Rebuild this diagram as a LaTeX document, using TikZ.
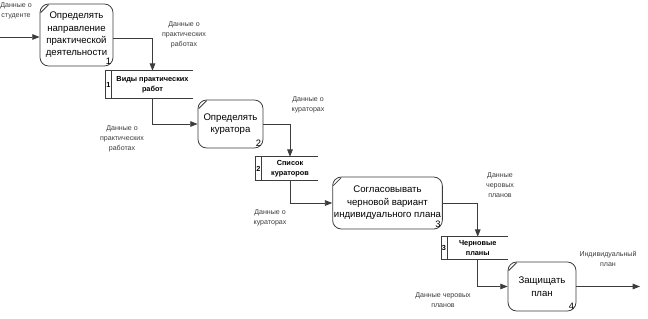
\documentclass[tikz,border=0pt]{standalone}
\usepackage{fontspec}
\setmainfont{Liberation Sans}
\usetikzlibrary{arrows.meta}
\definecolor{ln}{HTML}{3C3C3C}
\tikzset{
  line/.style={draw=ln, line width=0.6pt},
  flow/.style={line, -{Triangle[length=5.5pt,width=4.2pt]}},
  proc/.style={line, rounded corners=6.5pt, align=center, inner sep=1pt,
    font=\fontsize{7.2}{9.3}\selectfont},
  store/.style={align=center, inner sep=1pt, font=\fontsize{5.5}{7.2}\selectfont\bfseries},
  lbl/.style={align=center, inner sep=0pt, text=ln, font=\fontsize{5.3}{7.5}\selectfont},
  num/.style={anchor=south east, inner sep=1.5pt, font=\fontsize{7}{8}\selectfont},
  snum/.style={inner sep=0pt, font=\fontsize{5.5}{6}\selectfont\bfseries}
}
\begin{document}
\begin{tikzpicture}[x=0.75pt, y=-0.75pt]
\useasboundingbox (0,0) rectangle (648,318);
% processes
\node[proc, minimum width=54.75pt, minimum height=46.5pt] (p1) at (76.5,35)
  {Определять\\направление\\практической\\деятельности};
\node[proc, minimum width=48.75pt, minimum height=36pt] (p2) at (230.5,124)
  {Определять\\куратора};
\node[proc, minimum width=81.75pt, minimum height=39pt] (p3) at (387.5,203)
  {Согласовывать\\черновой вариант\\индивидуального плана};
\node[proc, minimum width=51pt, minimum height=36.75pt] (p4) at (542,286.5)
  {Защищать\\план};
\node[num] (n1) at (p1.south east) {1};
\node[num] (n2) at (p2.south east) {2};
\node[num] (n3) at (p3.south east) {3};
\node[num] (n4) at (p4.south east) {4};
\foreach \p in {p1,p2,p3,p4}
  \draw[line] ([shift={(1,9)}]\p.north west) -- ([shift={(9,1)}]\p.north west);
% stores
\node[store, minimum width=60.75pt, minimum height=20.25pt] (s1) at (152.5,84.5)
  {Виды практических\\работ};
\node[store, minimum width=42pt, minimum height=17.25pt] (s2) at (290,168.5)
  {Список\\кураторов};
\node[store, minimum width=45.4pt, minimum height=16.5pt] (s3) at (477.75,248)
  {Черновые\\планы};
\node[snum] (k1) at ([xshift=-2.4]s1.west) {1};
\node[snum] (k2) at ([xshift=-2.4]s2.west) {2};
\node[snum] (k3) at ([xshift=-2.4]s3.west) {3};
\foreach \s in {s1,s2,s3}{
  \draw[line] (\s.north east) -- ([xshift=-4.5]\s.north west)
    -- ([xshift=-4.5]\s.south west) -- (\s.south east);
  \draw[line] (\s.north west) -- (\s.south west);
}
% connectors
\coordinate (in) at (0,37);
\coordinate (y1) at (0,38);
\coordinate (out) at (640,286.5);
\draw[flow] (in) -- (in -| p1.west);
\draw[flow] (p1.east |- y1) -| (s1.north);
\draw[flow] (s1.south) |- (p2.west);
\draw[flow] (p2.east) -| (s2.north);
\draw[flow] (s2.south) |- (p3.west);
\draw[flow] (p3.east) -| (s3.north);
\draw[flow] (s3.south) |- (p4.west);
\draw[flow] (p4.east) -- (out);
% labels
\node[lbl] (l0) at (16,11) {Данные о\\студенте};
\node[lbl] (l1) at (184,35) {Данные о\\практических\\работах};
\node[lbl] (l2) at (122,139) {Данные о\\практических\\работах};
\node[lbl] (l3) at (308,105) {Данные о\\кураторах};
\node[lbl] (l4) at (270,218) {Данные о\\кураторах};
\node[lbl] (l5) at (500,185) {Данные\\черовых\\планов};
\node[lbl] (l6) at (443,300) {Данные черовых\\планов};
\node[lbl] (l7) at (608,259) {Индивидуальный\\план};
\end{tikzpicture}
\end{document}
